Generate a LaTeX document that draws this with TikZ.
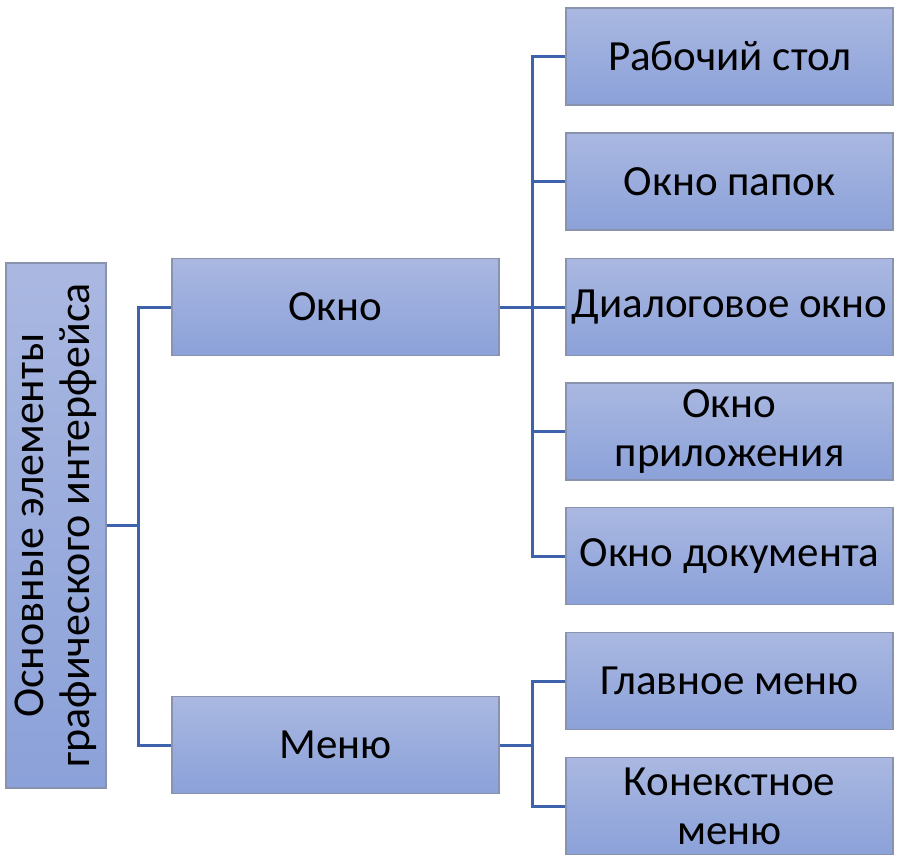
\documentclass[tikz,border=0pt]{standalone}
\usepackage{fontspec}
\setmainfont{Carlito}
\definecolor{boxtop}{HTML}{AAB8E1}
\definecolor{boxbot}{HTML}{8BA1D9}
\definecolor{boxline}{HTML}{8A93AD}
\definecolor{linkblue}{HTML}{3F62AD}

\begin{document}
\begin{tikzpicture}[x=1pt, y=-1pt,
  box/.style={draw=boxline, line width=1.3pt, top color=boxtop, bottom color=boxbot,
    minimum width=327pt, minimum height=97pt, inner sep=1pt, align=center,
    font=\fontsize{43}{49}\selectfont},
  link/.style={draw=linkblue, line width=3pt}]
\useasboundingbox (0,0) rectangle (900,863);

% root
\node [box, rotate=90, minimum width=525pt, minimum height=100pt,
  font=\fontsize{44}{46}\selectfont] (root) at (56,525.5)
  {Основные элементы\\графического интерфейса};

% second level
\node [box] (okno) at (335.5,307) {Окно};
\node [box] (menu) at (335.5,745) {Меню};

% windows
\node [box] (desk) at (729.5,56.5)  {Рабочий стол};
\node [box] (fold) at (729.5,181.5) {Окно папок};
\node [box] (dlg)  at (729.5,307)   {Диалоговое окно};
\node [box] (app)  at (729.5,431.5) {Окно\\приложения};
\node [box] (doc)  at (729.5,556)   {Окно документа};

% menus
\node [box] (mainm) at (729.5,681) {Главное меню};
\node [box] (ctxm)  at (729.5,806) {Конекстное\\меню};

% connectors
\coordinate (rj) at (138,525.5);
\coordinate (oj) at (532,307);
\coordinate (mj) at (532,745);

\draw [link] (root.south) -- (rj);
\draw [link] (okno.west) -| (rj) |- (menu.west);

\draw [link] (okno.east) -- (oj);
\foreach \n in {desk,fold,dlg,app,doc}
  \draw [link] (oj) |- (\n.west);

\draw [link] (menu.east) -- (mj);
\foreach \n in {mainm,ctxm}
  \draw [link] (mj) |- (\n.west);
\end{tikzpicture}
\end{document}
